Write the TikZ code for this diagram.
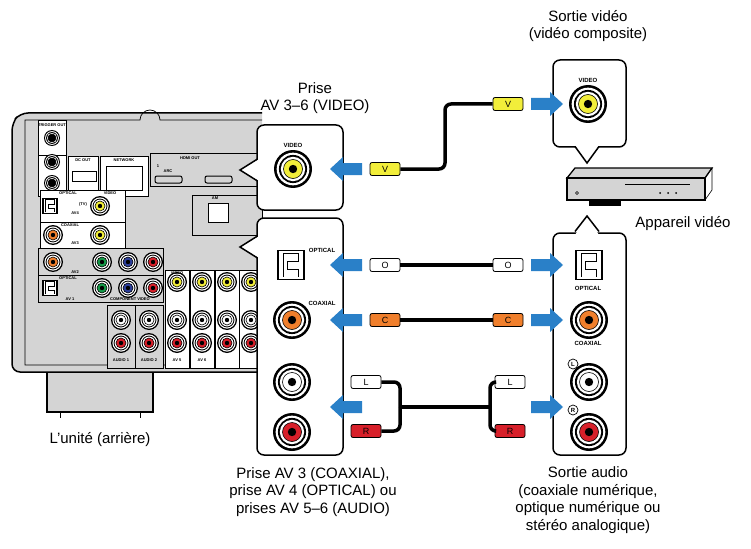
\documentclass[tikz,border=0pt]{standalone}
\usepackage{fontspec}
\setmainfont{Liberation Sans}
\usetikzlibrary{positioning}
\definecolor{arrowblue}{HTML}{2A80C8}
\definecolor{jackyellow}{HTML}{F2EE3A}
\definecolor{jackorange}{HTML}{F07F2C}
\definecolor{jackgreen}{HTML}{159A48}
\definecolor{jackblue}{HTML}{2D3F9A}
\definecolor{jackred}{HTML}{D7202A}
\definecolor{panelgray}{HTML}{D4D4D4}
% jack: x, y, radius, colour
\newcommand{\jack}[4]{%
  \fill[black] (#1,#2) circle (#3);
  \fill[white] (#1,#2) circle (0.86*#3);
  \fill[black] (#1,#2) circle (0.74*#3);
  \fill[white] (#1,#2) circle (0.64*#3);
  \fill[#4] (#1,#2) circle (0.5*#3);
  \draw[black,line width=0.6pt] (#1,#2) circle (0.5*#3);
  \fill[black] (#1,#2) circle (0.22*#3);}
% optical port: x, y, half size
\newcommand{\optport}[3]{%
  \draw[line width=1.4pt,fill=white] (#1-#3,#2-1.1*#3) rectangle (#1+#3,#2+1.1*#3);
  \draw[line width=0.7pt] (#1-0.6*#3,#2+0.9*#3) -- (#1-0.6*#3,#2-0.9*#3) -- (#1+0.6*#3,#2-0.9*#3)
     -- (#1+0.6*#3,#2-0.3*#3) -- (#1-0.3*#3,#2-0.3*#3) -- (#1-0.3*#3,#2+0.3*#3)
     -- (#1+0.6*#3,#2+0.3*#3) -- (#1+0.6*#3,#2+0.9*#3);}
% blue arrows: tip x, y
\newcommand{\arrowleft}[2]{%
  \fill[arrowblue] (#1,#2) -- (#1+13,#2-12) -- (#1+13,#2-6) -- (#1+32,#2-6)
     -- (#1+32,#2+6) -- (#1+13,#2+6) -- (#1+13,#2+12) -- cycle;}
\newcommand{\arrowright}[2]{%
  \fill[arrowblue] (#1,#2) -- (#1-13,#2-12) -- (#1-13,#2-6) -- (#1-32,#2-6)
     -- (#1-32,#2+6) -- (#1-13,#2+6) -- (#1-13,#2+12) -- cycle;}
\tikzset{
  label text/.style={font=\fontsize{15}{17.5}\selectfont,align=center},
  tiny text/.style={font=\bfseries\fontsize{4}{4}\selectfont,inner sep=0pt},
  small text/.style={font=\bfseries\fontsize{6}{6}\selectfont,inner sep=0pt},
  callout/.style={draw,line width=1.5pt,fill=white,rounded corners=7pt},
  plug/.style={draw,line width=0.8pt,fill=#1,minimum width=30pt,minimum height=13pt,
    inner sep=0pt,rounded corners=2pt,font=\fontsize{9}{9}\selectfont},
  cable/.style={line width=3.5pt,rounded corners=6pt},
  panel/.style={draw,line width=0.6pt,fill=white}
}
\begin{document}
\begin{tikzpicture}[x=1pt,y=-1pt]
\useasboundingbox (0,0) rectangle (751,548);
% receiver body
\fill[panelgray,draw=black,line width=1.2pt] (47,372) rectangle (153,412);
\draw[line width=1pt] (60,412) -- (60,418) (140,412) -- (140,418);
\draw[fill=panelgray,line width=1.5pt,rounded corners=8pt] (262,113) -- (20,113) -- (12,123) -- (12,372) -- (262,372);
\draw[line width=0.7pt] (262,120) -- (160,120) arc (0:-180:10) -- (25,120) -- (25,365) -- (262,365);
% top left panels
\draw[panel] (38,120) rectangle (66,155);
\draw[panel] (38,155) rectangle (66,196);
\jack{52}{138}{8}{black}
\jack{52}{162}{8}{black}
\jack{52}{183}{8}{black}
\node[tiny text] at (52,125) {TRIGGER OUT};
\node[tiny text] at (52,193) {REMOTE};
\draw[panel] (68,156) rectangle (98,196);
\node[tiny text] at (83,160) {DC OUT};
\draw[line width=1pt] (72,171) rectangle (96,181);
\draw[panel] (100,156) rectangle (148,196);
\node[tiny text] at (124,160) {NETWORK};
\draw[line width=1pt] (106,166) rectangle (142,190);
\draw[panel,fill=panelgray] (150,153) rectangle (262,186);
\node[tiny text] at (190,158) {HDMI OUT};
\node[tiny text] at (158,166) {1};
\node[tiny text] at (168,171) {ARC};
\draw[line width=1pt,rounded corners=2pt] (155,176) rectangle (182,183);
\draw[line width=1pt,rounded corners=2pt] (205,176) rectangle (232,183);
\draw[panel,fill=panelgray] (192,195) rectangle (262,235);
\node[tiny text] at (215,198) {AM};
\draw[line width=1pt,fill=white] (208,203) rectangle (228,222);
% AV4 / AV3
\draw[panel] (40,190) rectangle (125,222);
\optport{50}{206}{7}
\node[tiny text] at (68,193) {OPTICAL};
\node[tiny text] at (75,213) {AV4};
\node[tiny text] at (83,204) {(TV)};
\node[tiny text] at (110,193) {VIDEO};
\jack{100}{206}{10}{jackyellow}
\draw[panel] (40,222) rectangle (125,248);
\node[tiny text] at (70,225) {COAXIAL};
\node[tiny text] at (75,243) {AV3};
\jack{53}{235}{10}{jackorange}
\jack{100}{235}{10}{jackyellow}
% AV2 / AV1
\draw[panel,fill=panelgray] (38,248) rectangle (163,275);
\jack{53}{262}{10}{jackorange}
\jack{102}{262}{10}{jackgreen}
\jack{128}{262}{10}{jackblue}
\jack{153}{262}{10}{jackred}
\node[tiny text] at (75,272) {AV2};
\draw[panel,fill=panelgray] (38,275) rectangle (163,302);
\optport{50}{288}{7}
\node[tiny text] at (68,278) {OPTICAL};
\jack{102}{288}{10}{jackgreen}
\jack{128}{288}{10}{jackblue}
\jack{153}{288}{10}{jackred}
\node[tiny text] at (70,299) {AV 1};
\node[tiny text] at (130,299) {COMPONENT VIDEO};
% AUDIO columns
\foreach \cx/\cl in {121/AUDIO 1,149/AUDIO 2}{
  \draw[panel,fill=panelgray] (\cx-14,305) rectangle (\cx+14,368);
  \jack{\cx}{320}{10}{white}
  \jack{\cx}{343}{10}{jackred}
  \node[tiny text] at (\cx,360) {\cl};
}
\foreach \cx/\cl in {177/AV 5,202/AV 6,227/{},251/{}}{
  \draw[panel] (\cx-12,270) rectangle (\cx+12,368);
  \jack{\cx}{282}{10}{jackyellow}
  \jack{\cx}{320}{10}{white}
  \jack{\cx}{343}{10}{jackred}
  \node[tiny text] at (\cx,360) {\cl};
}
\node[tiny text] at (177,273) {VIDEO};
% left callouts
\draw[callout] (257,125) rectangle (343,210);
\draw[callout] (257,218) rectangle (343,455);
\fill[white] (240,170) -- (259,159) -- (259,181) -- cycle;
\draw[line width=1.5pt] (257.5,159) -- (240,170) -- (257.5,181);
\fill[white] (240,247) -- (259,236) -- (259,258) -- cycle;
\draw[line width=1.5pt] (257.5,236) -- (240,247) -- (257.5,258);
\node[small text] at (293,145) {VIDEO};
\jack{293}{169}{19}{jackyellow}
\optport{291}{265}{13}
\node[small text] at (322,250) {OPTICAL};
\jack{292}{320}{19}{jackorange}
\node[small text] at (322,303) {COAXIAL};
\jack{292}{382}{19}{white}
\jack{292}{432}{19}{jackred}
% right callouts
\draw[callout] (553,60) rectangle (626,147);
\fill[white] (575,145) -- (587,163) -- (599,145) -- cycle;
\draw[line width=1.5pt] (575,146.5) -- (587,163) -- (599,146.5);
\node[small text] at (588,80) {VIDEO};
\jack{588}{104}{19}{jackyellow}
\draw[callout] (553,233) rectangle (626,455);
\fill[white] (575,235) -- (587,216) -- (599,235) -- cycle;
\draw[line width=1.5pt] (575,231.5) -- (587,216) -- (599,231.5);
\optport{589}{265}{13}
\node[small text] at (588,288) {OPTICAL};
\jack{589}{320}{19}{jackorange}
\node[small text] at (588,343) {COAXIAL};
\jack{589}{382}{19}{white}
\jack{589}{432}{19}{jackred}
\draw[line width=0.7pt,fill=white] (573,364) circle (5) node[font=\bfseries\fontsize{6}{6}\selectfont] {L};
\draw[line width=0.7pt,fill=white] (573,410) circle (5) node[font=\bfseries\fontsize{6}{6}\selectfont] {R};
% video device
\draw[line width=1.3pt,fill=panelgray] (567,178) -- (575,168) -- (712,168) -- (705,178) -- cycle;
\draw[line width=1.3pt,fill=panelgray] (567,178) rectangle (705,200);
\draw[line width=1.3pt,fill=black] (590,200) rectangle (620,205);
\draw[line width=0.6pt] (705,178) -- (712,168) -- (712,190) -- (705,200);
\draw[line width=0.6pt] (625,184) -- (690,184);
\draw (577,193) circle (1.5);
\fill (660,193) circle (1) (668,193) circle (1) (676,193) circle (1);
% blue arrows
\arrowleft{330}{169}
\arrowright{563}{104}
\foreach \yy in {265,320}{
  \arrowleft{330}{\yy}
  \arrowright{563}{\yy}
}
\arrowleft{330}{407}
\arrowright{563}{407}
% cables and plugs
\node[plug=jackyellow] (v1) at (385,169) {V};
\node[plug=jackyellow] (v2) at (508,104) {V};
\draw[cable] (v1.east) -- (445,169) -- (445,104) -- (v2.west);
\node[plug=white] (o1) at (385,265) {O};
\node[plug=white] (o2) at (508,265) {O};
\draw[cable] (o1.east) -- (o2.west);
\node[plug=jackorange] (c1) at (385,320) {C};
\node[plug=jackorange] (c2) at (508,320) {C};
\draw[cable] (c1.east) -- (c2.west);
\node[plug=white] (l1) at (366,382) {L};
\node[plug=jackred] (r1) at (366,431) {R};
\node[plug=white] (l2) at (510,382) {L};
\node[plug=jackred] (r2) at (510,431) {R};
\draw[cable] (l1.east) -- (400,382) -- (400,407);
\draw[cable] (r1.east) -- (400,431) -- (400,407);
\draw[cable] (l2.west) -- (490,382) -- (490,407);
\draw[cable] (r2.west) -- (490,431) -- (490,407);
\draw[cable,rounded corners=0pt] (400,407) -- (490,407);
% texts
\node[label text] at (588,26) {Sortie vidéo\\(vidéo composite)};
\node[label text] at (315,98) {Prise\\AV 3--6 (VIDEO)};
\node[label text] at (683,224) {Appareil vidéo};
\node[label text] at (100,440) {L’unité (arrière)};
\node[label text] at (313,492) {Prise AV 3 (COAXIAL),\\prise AV 4 (OPTICAL) ou\\prises AV 5--6 (AUDIO)};
\node[label text] at (588,500) {Sortie audio\\(coaxiale numérique,\\optique numérique ou\\stéréo analogique)};
\end{tikzpicture}
\end{document}
